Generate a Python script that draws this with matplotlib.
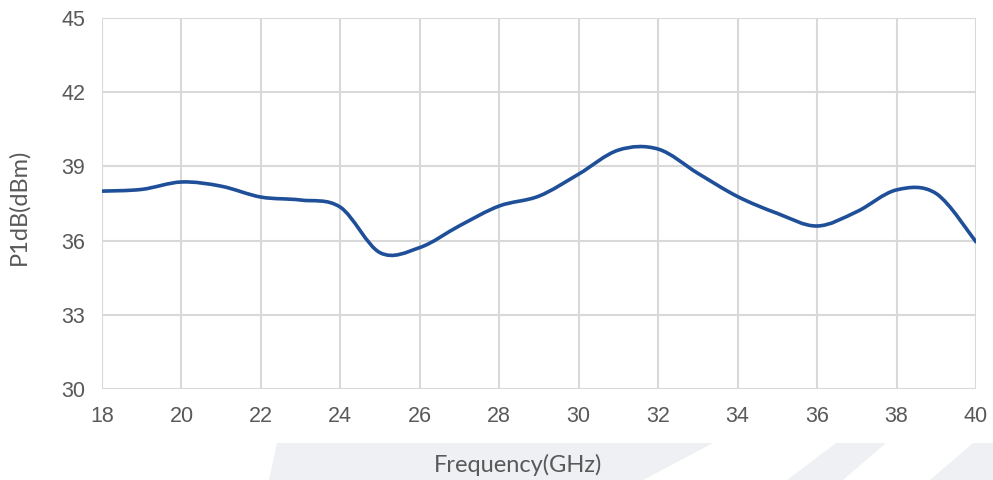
import numpy as np
import matplotlib.pyplot as plt
from matplotlib.path import Path
from matplotlib.patches import PathPatch, Polygon

# 데이터 (1 GHz 간격)
freq = [18, 19, 20, 21, 22, 23, 24, 25, 26, 27, 28, 29, 30, 31, 32, 33, 34, 35, 36, 37, 38, 39, 40]
p1db = [38.0, 38.07, 38.37, 38.2, 37.76, 37.64, 37.35, 35.51, 35.72, 36.6, 37.4, 37.8, 38.69,
        39.66, 39.7, 38.72, 37.78, 37.1, 36.59, 37.17, 38.05, 37.9, 35.95]
xticks = [18, 20, 22, 24, 26, 28, 30, 32, 34, 36, 38, 40]
yticks = [30, 33, 36, 39, 42, 45]

line_color = '#1f4f98'
grid_color = '#d9d9d9'
text_color = '#595959'


def smooth_path(xs, ys):
    # 엑셀 스타일 부드러운 선 (Catmull-Rom -> 베지어)
    pts = np.column_stack([xs, ys]).astype(float)
    n = len(pts)
    verts = [pts[0]]
    codes = [Path.MOVETO]
    for i in range(n - 1):
        p0 = pts[i - 1] if i > 0 else pts[i]
        p1 = pts[i]
        p2 = pts[i + 1]
        p3 = pts[i + 2] if i + 2 < n else pts[i + 1]
        c1 = p1 + (p2 - p0) / 6.0
        c2 = p2 - (p3 - p1) / 6.0
        verts += [c1, c2, p2]
        codes += [Path.CURVE4] * 3
    return Path(verts, codes)


fig = plt.figure(figsize=(9.93, 4.8), dpi=100)

# 배경 워터마크 띠
bg = fig.add_axes([0, 0, 1, 1], zorder=-5)
bg.set_xlim(0, 993)
bg.set_ylim(480, 0)
bg.axis('off')
band_color = '#eff0f3'
bg.add_patch(Polygon([(277, 443), (713, 443), (643, 480), (269, 480)], closed=True, fc=band_color, ec='none'))
bg.add_patch(Polygon([(836, 443), (886, 443), (843, 480), (787, 480)], closed=True, fc=band_color, ec='none'))
bg.add_patch(Polygon([(973, 443), (993, 443), (993, 480), (930, 480)], closed=True, fc=band_color, ec='none'))

ax = fig.add_axes([102 / 993, 91 / 480, 874 / 993, 371 / 480])
ax.patch.set_alpha(0)
ax.add_patch(PathPatch(smooth_path(freq, p1db), fc='none', ec=line_color, lw=2.6,
                       capstyle='round', joinstyle='round', zorder=3))

ax.set_xlim(18, 40)
ax.set_ylim(30, 45)
ax.set_xticks(xticks)
ax.set_yticks(yticks)
ax.grid(True, color=grid_color, lw=1.5)
ax.set_axisbelow(True)
for sp in ax.spines.values():
    sp.set_visible(False)

ax.tick_params(axis='x', length=0, pad=12, labelsize=15.5, labelcolor=text_color)
ax.tick_params(axis='y', length=0, pad=12, labelsize=15.5, labelcolor=text_color)
for lab in ax.get_xticklabels() + ax.get_yticklabels():
    lab.set_family('Liberation Sans')

ax.set_xlabel('Frequency(GHz)', family='Lato', fontsize=17, color=text_color)
ax.xaxis.set_label_coords(0.476, -0.175)
ax.set_ylabel('P1dB(dBm)', family='Lato', fontsize=17, color=text_color)
ax.yaxis.set_label_coords(-0.083, 0.49)

fig.savefig('out.png', dpi=100)
